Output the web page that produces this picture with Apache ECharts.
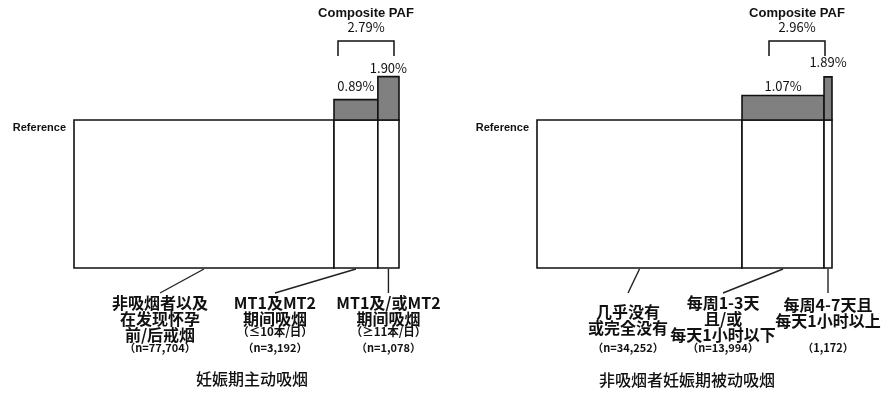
<!DOCTYPE html>
<html><head><meta charset="utf-8">
<script src="https://cdn.jsdelivr.net/npm/echarts@6/dist/echarts.min.js"></script>
<style>html,body{margin:0;padding:0;background:#fff}#c{width:886px;height:397px}</style>
</head><body><div id="c"></div>
<script>
// ---------- data ----------
const activeCategories = ['非吸烟者以及\n在发现怀孕\n前/后戒烟', 'MT1及MT2\n期间吸烟', 'MT1及/或MT2\n期间吸烟'];
const activeNotes = ['', '（≤10本/日）', '（≥11本/日）'];
const activeN = ['（n=77,704）', '（n=3,192）', '（n=1,078）'];
const activeWidthShare = [80, 13.5, 6.5];
const activePAF = [null, 0.89, 1.90];
const activeComposite = '2.79%';
const activeTitle = '妊娠期主动吸烟';

const passiveCategories = ['几乎没有\n或完全没有', '每周1-3天\n且/或\n每天1小时以下', '每周4-7天且\n每天1小时以上'];
const passiveNotes = ['', '', ''];
const passiveN = ['（n=34,252）', '（n=13,994）', '（1,172）'];
const passiveWidthShare = [69.5, 27.8, 2.7];
const passivePAF = [null, 1.07, 1.89];
const passiveComposite = '2.96%';
const passiveTitle = '非吸烟者妊娠期被动吸烟';

const referenceDepth = 6.5;   // schematic depth of reference boxes (in % units)
const referenceLabel = 'Reference';
const compositeLabel = 'Composite PAF';

// ---------- layout (not data) ----------
const layout = {
  active:  { left: 74,  width: 325, leaderDx: [-44, -81, 0], labelTop: [303, 303, 303], pafGap: [7, 2] },
  passive: { left: 537, width: 295, leaderDx: [-11.5, -60, 0], labelTop: [312, 303, 305], pafGap: [3, 8] }
};
const CJK = '"Noto Sans CJK JP","Noto Sans CJK SC",sans-serif';
const LAT = '"Liberation Sans",Arial,sans-serif';
const LINE = '#111';

function buildData(widths, paf) {
  let acc = 0;
  return widths.map((w, i) => { const d = [acc, acc + w, paf[i] == null ? 0 : paf[i], i]; acc += w; return d; });
}

function makeRender(cats, notes, ns, pafs, lay) {
  return function (params, api) {
    const x0v = api.value(0), x1v = api.value(1), paf = api.value(2), idx = api.value(3);
    const tl = api.coord([x0v, 0]);
    const br = api.coord([x1v, -referenceDepth]);
    const children = [];
    children.push({ type: 'rect', shape: { x: tl[0], y: tl[1], width: br[0] - tl[0], height: br[1] - tl[1] },
      style: { fill: '#fff', stroke: LINE, lineWidth: 1.6 } });
    if (pafs[idx] != null) {
      const top = api.coord([x0v, paf]);
      children.push({ type: 'rect', shape: { x: tl[0], y: top[1], width: br[0] - tl[0], height: tl[1] - top[1] },
        style: { fill: '#808080', stroke: LINE, lineWidth: 1.6 } });
      const gapIdx = idx - 1;
      children.push({ type: 'text', style: { text: pafs[idx].toFixed(2) + '%', x: (tl[0] + br[0]) / 2,
        y: top[1] - lay.pafGap[gapIdx], align: 'center', verticalAlign: 'bottom',
        font: '13px ' + CJK, fill: '#111' } });
    }
    if (idx === 0) {
      children.push({ type: 'text', style: { text: referenceLabel, x: tl[0] - 8, y: tl[1] + 8,
        align: 'right', verticalAlign: 'middle', font: 'bold 11px ' + LAT, fill: '#111' } });
    }
    const cx = (tl[0] + br[0]) / 2;
    const ex = cx + lay.leaderDx[idx];
    const ey = br[1] + 25;
    children.push({ type: 'line', shape: { x1: cx, y1: br[1] + 1, x2: ex, y2: ey },
      style: { stroke: '#222', lineWidth: 1.4 } });
    const lines = cats[idx].split('\n');
    let y = lay.labelTop[idx];
    lines.forEach((t, k) => {
      children.push({ type: 'text', style: { text: t, x: ex, y: y + k * 16, align: 'center', verticalAlign: 'middle',
        font: 'bold 16px ' + CJK, fill: '#111' } });
    });
    if (notes[idx]) {
      children.push({ type: 'text', style: { text: notes[idx], x: ex, y: 332, align: 'center', verticalAlign: 'middle',
        font: 'bold 11.5px ' + CJK, fill: '#111' } });
    }
    children.push({ type: 'text', style: { text: ns[idx], x: ex, y: 348, align: 'center', verticalAlign: 'middle',
      font: 'bold 11px ' + CJK, fill: '#111' } });
    return { type: 'group', children };
  };
}

const yCommon = { type: 'value', min: -referenceDepth, max: 2.5, show: false };
const xCommon = { type: 'value', min: 0, max: 100, show: false };

function bracket(cx, text) {
  const half = 28;
  return [
    { type: 'text', style: { text: compositeLabel, x: cx, y: 13, align: 'center', verticalAlign: 'middle', font: 'bold 13px ' + LAT, fill: '#111' } },
    { type: 'text', style: { text: text, x: cx, y: 27, align: 'center', verticalAlign: 'middle', font: '13px ' + CJK, fill: '#111' } },
    { type: 'polyline', shape: { points: [[cx - half, 56], [cx - half, 41], [cx + half, 41], [cx + half, 56]] }, style: { stroke: '#111', lineWidth: 1.5, fill: null } }
  ];
}

const chart = echarts.init(document.getElementById('c'), null, { renderer: 'canvas' });
chart.setOption({
  animation: false,
  backgroundColor: '#fff',
  grid: [
    { left: layout.active.left, width: layout.active.width, top: 63, height: 205 },
    { left: layout.passive.left, width: layout.passive.width, top: 63, height: 205 }
  ],
  xAxis: [Object.assign({ gridIndex: 0 }, xCommon), Object.assign({ gridIndex: 1 }, xCommon)],
  yAxis: [Object.assign({ gridIndex: 0 }, yCommon), Object.assign({ gridIndex: 1 }, yCommon)],
  series: [
    { type: 'custom', xAxisIndex: 0, yAxisIndex: 0, data: buildData(activeWidthShare, activePAF),
      renderItem: makeRender(activeCategories, activeNotes, activeN, activePAF, layout.active), clip: false, silent: true },
    { type: 'custom', xAxisIndex: 1, yAxisIndex: 1, data: buildData(passiveWidthShare, passivePAF),
      renderItem: makeRender(passiveCategories, passiveNotes, passiveN, passivePAF, layout.passive), clip: false, silent: true }
  ],
  graphic: [
    ...bracket(366, activeComposite),
    ...bracket(797, passiveComposite),
    { type: 'text', style: { text: activeTitle, x: 252, y: 379, align: 'center', verticalAlign: 'middle', font: '500 16px ' + CJK, fill: '#111' } },
    { type: 'text', style: { text: passiveTitle, x: 687, y: 380, align: 'center', verticalAlign: 'middle', font: '500 16px ' + CJK, fill: '#111' } }
  ]
});
</script></body></html>
